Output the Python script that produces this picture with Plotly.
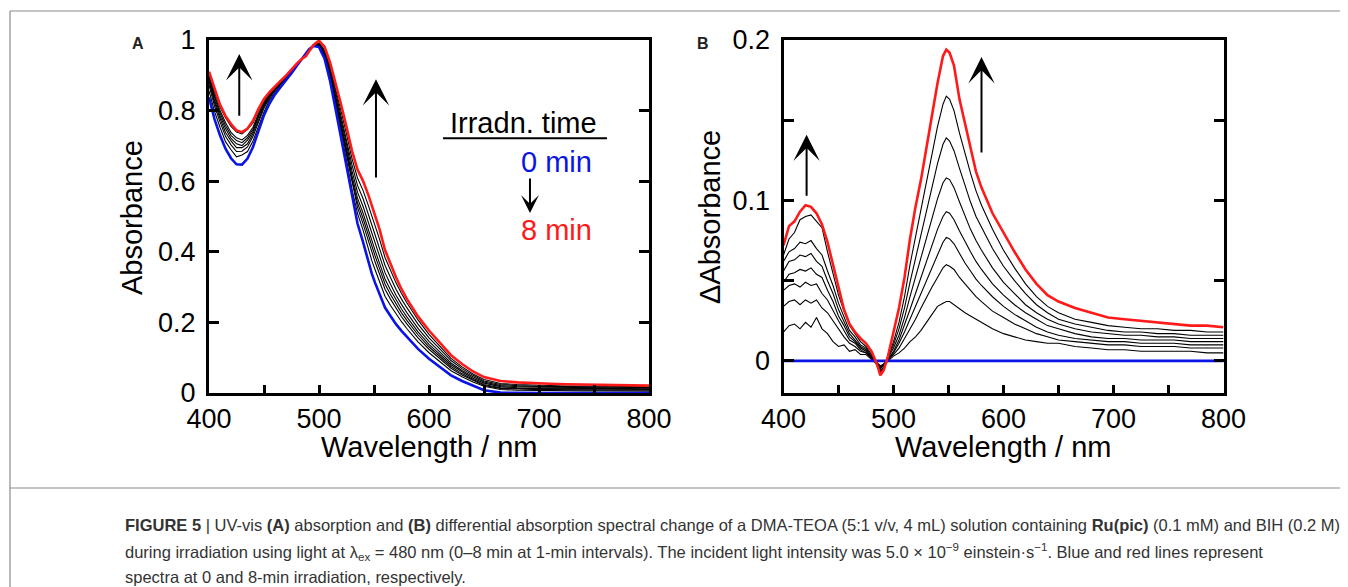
import numpy as np
import plotly.graph_objects as go

# ---------------- data ----------------
wl = [400, 405, 410, 415, 420, 425, 430, 435, 440, 445, 450, 455, 460, 465, 470, 475, 480,
      485, 488, 491, 495, 500, 505, 510, 515, 520, 525, 530, 535, 540, 545, 548, 551,
      555, 560, 565, 570, 575, 580, 590, 600, 610, 620, 630, 640, 650, 665, 680, 695,
      710, 725, 740, 755, 770, 785, 800]

# Absorbance at 0 min (blue)
abs_0min = [0.838, 0.776, 0.730, 0.692, 0.665, 0.648, 0.647, 0.664, 0.697, 0.745, 0.787,
            0.820, 0.846, 0.866, 0.885, 0.906, 0.928, 0.950, 0.963, 0.974, 0.983, 0.980,
            0.948, 0.885, 0.805, 0.722, 0.641, 0.553, 0.480, 0.428, 0.370, 0.338, 0.312,
            0.280, 0.242, 0.218, 0.195, 0.176, 0.158, 0.125, 0.097, 0.074, 0.050, 0.034,
            0.020, 0.008, 0.001, 0.000, 0.000, 0.000, 0.000, 0.000, 0.000, 0.000, 0.000, 0.000]

# Differential absorbance (A(t) - A(0)) for 1..8 min
dA_1min = [0.018, 0.022, 0.023, 0.020, 0.024, 0.021, 0.027, 0.020, 0.017, 0.012, 0.009,
           0.010, 0.006, 0.007, 0.004, 0.004, 0.001, -0.002, -0.004, -0.003, 0.000, 0.003,
           0.005, 0.008, 0.012, 0.015, 0.019, 0.024, 0.029, 0.034, 0.036, 0.037, 0.037,
           0.035, 0.032, 0.030, 0.028, 0.026, 0.024, 0.020, 0.017, 0.015, 0.013, 0.012,
           0.011, 0.011, 0.009, 0.008, 0.007, 0.007, 0.006, 0.006, 0.006, 0.006, 0.005, 0.005]
dA_2min = [0.034, 0.037, 0.038, 0.035, 0.038, 0.036, 0.038, 0.033, 0.030, 0.025, 0.020,
           0.015, 0.011, 0.009, 0.006, 0.005, 0.002, -0.001, -0.003, -0.002, 0.001, 0.004,
           0.008, 0.014, 0.020, 0.026, 0.033, 0.040, 0.046, 0.052, 0.058, 0.060, 0.059,
           0.057, 0.052, 0.048, 0.044, 0.040, 0.037, 0.031, 0.027, 0.023, 0.020, 0.017,
           0.015, 0.013, 0.012, 0.011, 0.010, 0.010, 0.009, 0.009, 0.009, 0.008, 0.008, 0.008]
dA_3min = [0.044, 0.047, 0.048, 0.046, 0.049, 0.047, 0.048, 0.042, 0.038, 0.031, 0.025,
           0.019, 0.013, 0.011, 0.007, 0.005, 0.002, -0.001, -0.004, -0.002, 0.001, 0.005,
           0.011, 0.018, 0.026, 0.034, 0.042, 0.051, 0.059, 0.067, 0.074, 0.077, 0.076,
           0.073, 0.067, 0.061, 0.056, 0.051, 0.047, 0.040, 0.034, 0.029, 0.025, 0.021,
           0.018, 0.016, 0.014, 0.013, 0.012, 0.012, 0.011, 0.011, 0.011, 0.010, 0.010, 0.010]
dA_4min = [0.049, 0.054, 0.055, 0.057, 0.056, 0.058, 0.054, 0.052, 0.044, 0.037, 0.028,
           0.022, 0.015, 0.012, 0.008, 0.006, 0.002, -0.002, -0.004, -0.003, 0.001, 0.006,
           0.013, 0.022, 0.032, 0.042, 0.052, 0.062, 0.072, 0.082, 0.090, 0.093, 0.092,
           0.088, 0.081, 0.074, 0.068, 0.062, 0.057, 0.048, 0.041, 0.035, 0.030, 0.026,
           0.022, 0.020, 0.017, 0.015, 0.014, 0.014, 0.013, 0.013, 0.013, 0.012, 0.012, 0.012]
dA_5min = [0.056, 0.062, 0.063, 0.066, 0.065, 0.067, 0.062, 0.059, 0.050, 0.042, 0.032,
           0.025, 0.017, 0.013, 0.009, 0.007, 0.002, -0.002, -0.005, -0.003, 0.002, 0.008,
           0.016, 0.027, 0.040, 0.052, 0.064, 0.076, 0.089, 0.101, 0.111, 0.114, 0.113,
           0.108, 0.099, 0.090, 0.082, 0.075, 0.069, 0.058, 0.049, 0.042, 0.035, 0.030,
           0.026, 0.023, 0.020, 0.018, 0.017, 0.016, 0.016, 0.015, 0.015, 0.014, 0.014, 0.014]
dA_6min = [0.062, 0.068, 0.070, 0.074, 0.073, 0.075, 0.070, 0.066, 0.056, 0.047, 0.036,
           0.028, 0.019, 0.015, 0.010, 0.008, 0.003, -0.002, -0.006, -0.004, 0.002, 0.010,
           0.020, 0.033, 0.049, 0.064, 0.078, 0.093, 0.108, 0.123, 0.135, 0.139, 0.137,
           0.131, 0.120, 0.109, 0.099, 0.090, 0.083, 0.070, 0.059, 0.050, 0.042, 0.035,
           0.030, 0.026, 0.023, 0.021, 0.019, 0.018, 0.018, 0.017, 0.017, 0.016, 0.016, 0.016]
dA_7min = [0.066, 0.076, 0.080, 0.088, 0.090, 0.091, 0.087, 0.083, 0.068, 0.055, 0.041,
           0.031, 0.022, 0.017, 0.012, 0.009, 0.004, -0.003, -0.007, -0.005, 0.002, 0.012,
           0.024, 0.040, 0.060, 0.077, 0.093, 0.111, 0.129, 0.146, 0.160, 0.165, 0.163,
           0.156, 0.142, 0.129, 0.117, 0.106, 0.097, 0.082, 0.069, 0.058, 0.048, 0.040,
           0.034, 0.030, 0.026, 0.024, 0.022, 0.021, 0.020, 0.020, 0.019, 0.019, 0.018, 0.018]
dA_8min = [0.072, 0.084, 0.087, 0.093, 0.097, 0.096, 0.092, 0.085, 0.074, 0.060, 0.046,
           0.032, 0.023, 0.018, 0.014, 0.011, 0.006, -0.002, -0.009, -0.006, 0.003, 0.018,
           0.033, 0.052, 0.076, 0.096, 0.113, 0.133, 0.153, 0.173, 0.190, 0.194, 0.192,
           0.184, 0.163, 0.147, 0.133, 0.118, 0.108, 0.092, 0.080, 0.068, 0.057, 0.048,
           0.041, 0.037, 0.033, 0.030, 0.027, 0.026, 0.025, 0.024, 0.023, 0.022, 0.022, 0.021]

dA_series = [dA_1min, dA_2min, dA_3min, dA_4min, dA_5min, dA_6min, dA_7min]
dA_zero = [0.0] * len(wl)

x_ticks = [400, 500, 600, 700, 800]
yA_ticks = [0, 0.2, 0.4, 0.6, 0.8, 1]
yB_ticks = [0, 0.1, 0.2]

# ---------------- figure ----------------
# the page body has an 8 px margin: the figure is sized to fit the 1348x587 window
OFF = 8
W, H = 1348 - OFF, 587 - OFF
BLUE = "#0a14e6"
RED = "#ff1a1a"
FONT = "Liberation Sans, Arial, Helvetica, sans-serif"

fig = go.Figure()

a0 = np.array(abs_0min)
# panel A : absorption spectra A(t) = A(0) + dA(t)
for s in dA_series:
    fig.add_trace(go.Scatter(x=wl, y=a0 + np.array(s), mode="lines",
                             line=dict(color="black", width=1.1),
                             xaxis="x", yaxis="y", showlegend=False, hoverinfo="skip"))
fig.add_trace(go.Scatter(x=wl, y=a0, mode="lines", line=dict(color=BLUE, width=2.6),
                         xaxis="x", yaxis="y", showlegend=False))
fig.add_trace(go.Scatter(x=wl, y=a0 + np.array(dA_8min), mode="lines",
                         line=dict(color=RED, width=2.6),
                         xaxis="x", yaxis="y", showlegend=False))

# panel B : differential spectra
for s in dA_series:
    fig.add_trace(go.Scatter(x=wl, y=s, mode="lines", line=dict(color="black", width=1.1),
                             xaxis="x2", yaxis="y2", showlegend=False, hoverinfo="skip"))
fig.add_trace(go.Scatter(x=wl, y=dA_zero, mode="lines", line=dict(color=BLUE, width=2.6),
                         xaxis="x2", yaxis="y2", showlegend=False))
fig.add_trace(go.Scatter(x=wl, y=dA_8min, mode="lines", line=dict(color=RED, width=2.6),
                         xaxis="x2", yaxis="y2", showlegend=False))

def px_x(p):
    return (p - OFF) / W

def px_y(p):
    return 1 - (p - OFF) / H

axis_common = dict(showline=True, linecolor="black", linewidth=3, showgrid=False,
                   zeroline=False, ticks="inside", tickcolor="black", tickwidth=2.5,
                   automargin=False,
                   tickfont=dict(family=FONT, size=27, color="black"))

xaxis_cfg = dict(axis_common, range=[400, 800], tickvals=x_ticks, ticklen=8, mirror=True,
                 minor=dict(dtick=50, ticks="inside", ticklen=8, tickwidth=2.5,
                            tickcolor="black"),
                 ticklabelstandoff=0)

fig.update_layout(
    width=W, height=H,
    margin=dict(l=0, r=0, t=0, b=0, pad=0, autoexpand=False),
    paper_bgcolor="white", plot_bgcolor="white",
    xaxis=dict(xaxis_cfg, domain=[px_x(209), px_x(649)], anchor="y"),
    yaxis=dict(axis_common, range=[0, 1], tickvals=yA_ticks, ticklen=10, mirror="ticks",
               domain=[px_y(393), px_y(40)], anchor="x", ticklabelstandoff=5),
    xaxis2=dict(xaxis_cfg, domain=[px_x(783.5), px_x(1223.5)], anchor="y2"),
    yaxis2=dict(axis_common, range=[-0.02, 0.2], tickvals=yB_ticks, ticklen=10,
                mirror="ticks",
                minor=dict(dtick=0.05, ticks="inside", ticklen=10, tickwidth=2.5,
                           tickcolor="black"),
                domain=[px_y(393), px_y(40)], anchor="x2", ticklabelstandoff=5),
)

ann = []
# axis titles
for xc in (429, 1003.5):
    ann.append(dict(text="Wavelength / nm", x=px_x(xc), y=px_y(447), xref="paper",
                    yref="paper", showarrow=False, xanchor="center", yanchor="middle",
                    font=dict(family=FONT, size=29, color="black")))
ann.append(dict(text="Absorbance", x=px_x(132), y=px_y(218), xref="paper", yref="paper",
                showarrow=False, textangle=-90, xanchor="center", yanchor="middle",
                font=dict(family=FONT, size=29, color="black")))
ann.append(dict(text="ΔAbsorbance", x=px_x(710), y=px_y(217), xref="paper", yref="paper",
                showarrow=False, textangle=-90, xanchor="center", yanchor="middle",
                font=dict(family=FONT, size=29, color="black")))
# panel labels
ann.append(dict(text="<b>A</b>", x=px_x(137.5), y=px_y(43), xref="paper", yref="paper",
                showarrow=False, xanchor="center", yanchor="middle",
                font=dict(family=FONT, size=16, color="#222")))
ann.append(dict(text="<b>B</b>", x=px_x(703), y=px_y(43), xref="paper", yref="paper",
                showarrow=False, xanchor="center", yanchor="middle",
                font=dict(family=FONT, size=16, color="#222")))

# legend-like texts in panel A
ann.append(dict(text="Irradn. time", x=685.5, y=0.765, xref="x", yref="y", showarrow=False,
                xanchor="center", yanchor="middle",
                font=dict(family=FONT, size=29, color="black")))
ann.append(dict(text="0 min", x=715.5, y=0.654, xref="x", yref="y", showarrow=False,
                xanchor="center", yanchor="middle", font=dict(family=FONT, size=29, color=BLUE)))
ann.append(dict(text="8 min", x=715.5, y=0.462, xref="x", yref="y", showarrow=False,
                xanchor="center", yanchor="middle", font=dict(family=FONT, size=29, color=RED)))

# arrows
def arrow(xr, yr, x0, y0, x1, y1, size=2.2):
    return dict(x=x1, y=y1, ax=x0, ay=y0, xref=xr, yref=yr, axref=xr, ayref=yr,
                text="", showarrow=True, arrowhead=3, arrowsize=size, arrowwidth=2,
                arrowcolor="black", standoff=0, startstandoff=0)

ann.append(arrow("x", "y", 427.5, 0.781, 427.5, 0.960))
ann.append(arrow("x", "y", 551.8, 0.606, 551.8, 0.889))
ann.append(arrow("x", "y", 691.8, 0.612, 691.8, 0.510, size=1.5))
ann.append(arrow("x2", "y2", 421, 0.102, 421, 0.141))
ann.append(arrow("x2", "y2", 580, 0.129, 580, 0.1894))

# caption
CAP = "Liberation Sans, Arial, sans-serif"
cap_lines = [
    "<b>FIGURE 5</b> | UV-vis <b>(A)</b> absorption and <b>(B)</b> differential absorption spectral change of a DMA-TEOA (5:1 v/v, 4 mL) solution containing <b>Ru(pic)</b> (0.1 mM) and BIH (0.2 M)",
    "during irradiation using light at λ<sub>ex</sub> = 480 nm (0–8 min at 1-min intervals). The incident light intensity was 5.0 × 10<sup>−9</sup> einstein·s<sup>−1</sup>. Blue and red lines represent",
    "spectra at 0 and 8-min irradiation, respectively.",
]
for txt, yc in zip(cap_lines, (525, 552, 577)):
    ann.append(dict(text=txt, x=px_x(123), y=px_y(yc), xref="paper", yref="paper",
                    showarrow=False, xanchor="left", yanchor="middle",
                    font=dict(family=CAP, size=16.5, color="#333")))

fig.update_layout(annotations=ann)

# figure frame and underline
shapes = [
    dict(type="line", xref="paper", yref="paper", x0=px_x(10), x1=px_x(10), y0=0,
         y1=px_y(11), line=dict(color="#8a8a8a", width=1.2)),
    dict(type="line", xref="paper", yref="paper", x0=px_x(10), x1=1, y0=px_y(11),
         y1=px_y(11), line=dict(color="#8a8a8a", width=1.2)),
    dict(type="line", xref="paper", yref="paper", x0=px_x(10), x1=1, y0=px_y(488),
         y1=px_y(488), line=dict(color="#8a8a8a", width=1.2)),
    dict(type="line", xref="x", yref="y", x0=612.7, x1=761.8, y0=0.722, y1=0.722,
         line=dict(color="black", width=2)),
]
fig.update_layout(shapes=shapes)

fig.write_html("out.html")
